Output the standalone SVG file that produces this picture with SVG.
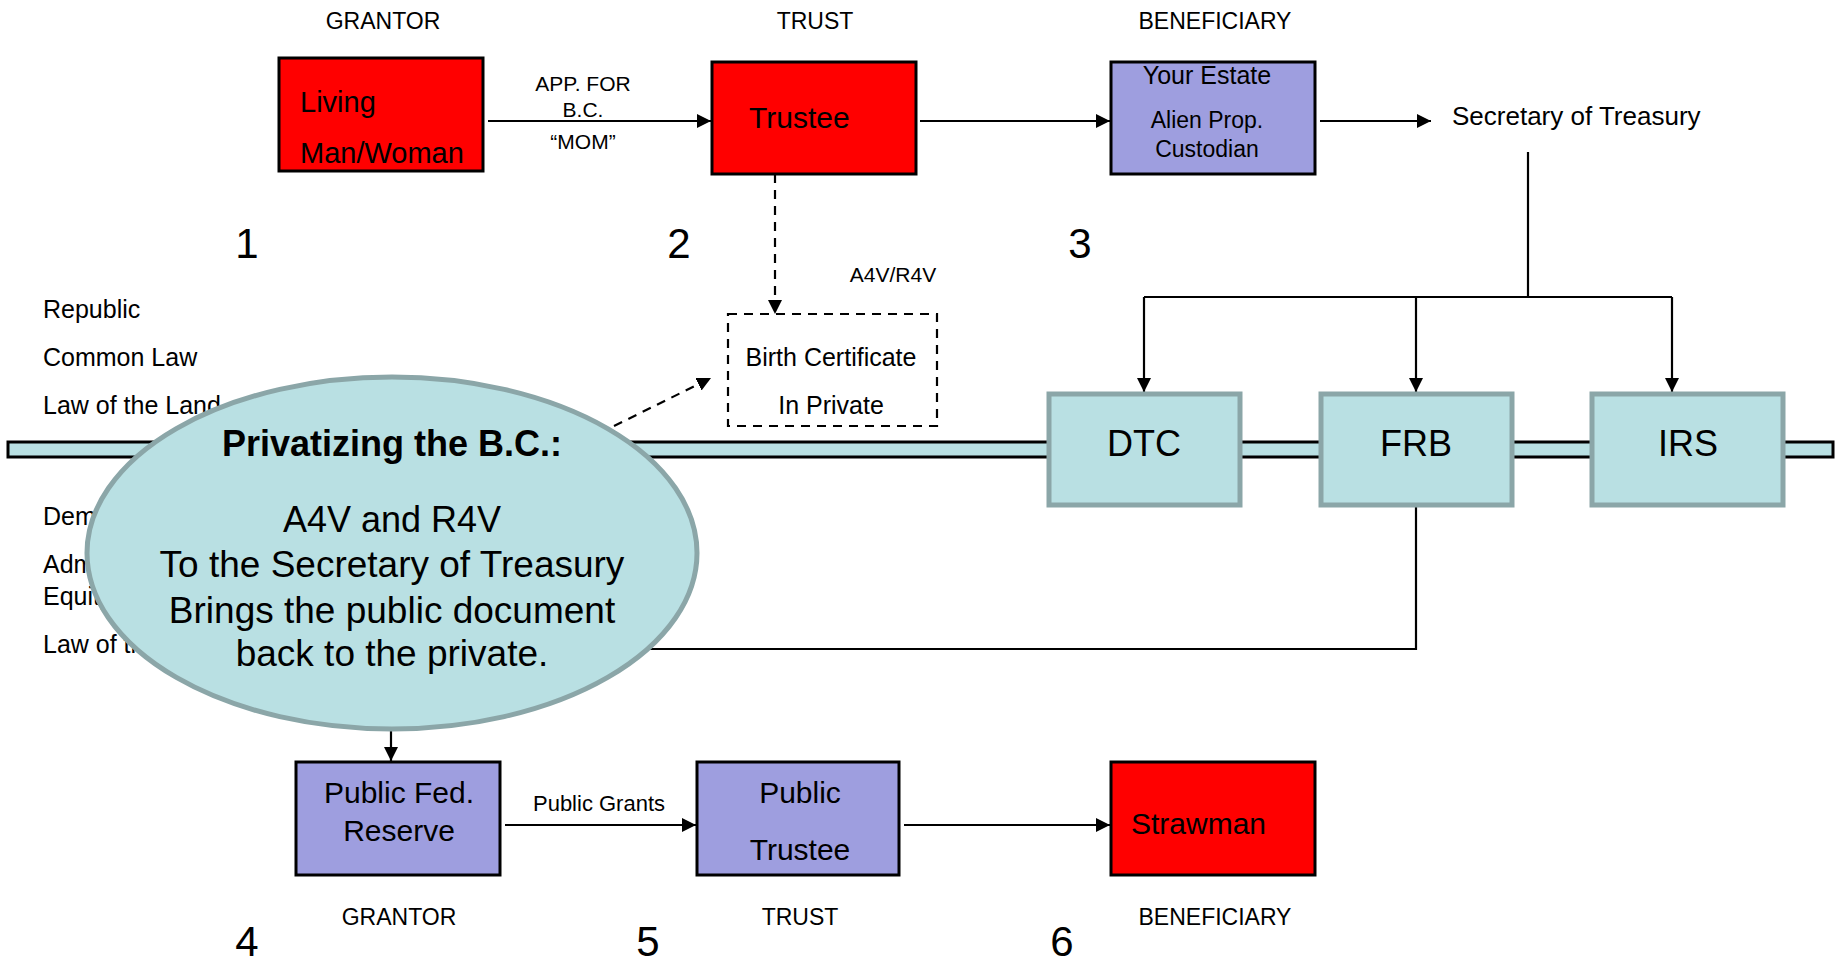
<svg xmlns="http://www.w3.org/2000/svg" width="1836" height="966" viewBox="0 0 1836 966">
<style>
text{font-family:"Liberation Sans",Arial,sans-serif;fill:#000}
.lbl{font-size:23px;text-anchor:middle}
.num{font-size:42px;text-anchor:middle}
.side{font-size:25px}
.red{fill:#FF0000;stroke:#000;stroke-width:3}
.lav{fill:#9E9EDF;stroke:#000;stroke-width:3}
.teal{fill:#B9E0E3;stroke:#8BA6A8;stroke-width:5}
.c{text-anchor:middle}
.ln{fill:none;stroke:#000;stroke-width:2.2}
.dash{fill:none;stroke:#000;stroke-width:2.2;stroke-dasharray:9 7}
</style>
<defs>
<marker id="ah" viewBox="0 0 10 10" refX="10" refY="5" markerWidth="14" markerHeight="14" markerUnits="userSpaceOnUse" orient="auto">
<path d="M0,0 L10,5 L0,10 z" fill="#000"/>
</marker>
</defs>
<rect width="1836" height="966" fill="#fff"/>

<g id="headers">
<text class="lbl" x="383" y="29">GRANTOR</text>
<text class="lbl" x="815" y="29">TRUST</text>
<text class="lbl" x="1215" y="29">BENEFICIARY</text>
<text class="lbl" x="399" y="925">GRANTOR</text>
<text class="lbl" x="800" y="925">TRUST</text>
<text class="lbl" x="1215" y="925">BENEFICIARY</text>
<text class="num" x="247" y="258">1</text>
<text class="num" x="679" y="258">2</text>
<text class="num" x="1080" y="258">3</text>
<text class="num" x="247" y="956">4</text>
<text class="num" x="648" y="956">5</text>
<text class="num" x="1062" y="956">6</text>
</g>

<g id="side-labels">
<text class="side" x="43" y="318">Republic</text>
<text class="side" x="43" y="366">Common Law</text>
<text class="side" x="43" y="414">Law of the Land</text>
<text class="side" x="43" y="525">Democracy</text>
<text class="side" x="43" y="573">Admiralty</text>
<text class="side" x="43" y="605">Equity</text>
<text class="side" x="43" y="653">Law of the Sea</text>
</g>

<g id="band">
<rect x="8" y="442" width="1825" height="15" fill="#B9E0E3" stroke="#000" stroke-width="3"/>
</g>

<g id="connectors">
<line class="ln" x1="488" y1="121" x2="711" y2="121" marker-end="url(#ah)"/>
<line class="ln" x1="920" y1="121" x2="1110" y2="121" marker-end="url(#ah)"/>
<line class="ln" x1="1320" y1="121" x2="1431" y2="121" marker-end="url(#ah)"/>
<polyline class="ln" points="1528,152 1528,297"/>
<polyline class="ln" points="1144,297 1672,297"/>
<line class="ln" x1="1144" y1="297" x2="1144" y2="392" marker-end="url(#ah)"/>
<line class="ln" x1="1416" y1="297" x2="1416" y2="392" marker-end="url(#ah)"/>
<line class="ln" x1="1672" y1="297" x2="1672" y2="392" marker-end="url(#ah)"/>
<line class="dash" x1="775" y1="174" x2="775" y2="314" marker-end="url(#ah)"/>
<line class="dash" x1="614" y1="426" x2="711" y2="378" marker-end="url(#ah)"/>
<polyline class="ln" points="1416,506 1416,649 391,649 391,761" marker-end="url(#ah)"/>
<line class="ln" x1="505" y1="825" x2="696" y2="825" marker-end="url(#ah)"/>
<line class="ln" x1="904" y1="825" x2="1110" y2="825" marker-end="url(#ah)"/>
<text x="583" y="91" font-size="21" text-anchor="middle">APP. FOR</text>
<text x="583" y="117" font-size="21" text-anchor="middle">B.C.</text>
<text x="583" y="149" font-size="21" text-anchor="middle">“MOM”</text>
<text x="893" y="282" font-size="21" text-anchor="middle">A4V/R4V</text>
<text x="599" y="811" font-size="22" text-anchor="middle">Public Grants</text>
</g>

<g id="living">
<rect class="red" x="279" y="58" width="204" height="113"/>
<text x="300" y="112" font-size="29">Living</text>
<text x="300" y="163" font-size="29">Man/Woman</text>
</g>

<g id="trustee">
<rect class="red" x="712" y="62" width="204" height="112"/>
<text x="749" y="128" font-size="30">Trustee</text>
</g>

<g id="estate">
<rect class="lav" x="1111" y="62" width="204" height="112"/>
<text class="c" x="1207" y="84" font-size="25">Your Estate</text>
<text class="c" x="1207" y="128" font-size="23">Alien Prop.</text>
<text class="c" x="1207" y="157" font-size="23">Custodian</text>
</g>

<g id="secretary">
<text x="1452" y="125" font-size="26">Secretary of Treasury</text>
</g>

<g id="birth-certificate">
<rect x="728" y="314" width="209" height="112" fill="#fff" stroke="#000" stroke-width="2.2" stroke-dasharray="9 7"/>
<text class="c" x="831" y="366" font-size="25">Birth Certificate</text>
<text class="c" x="831" y="414" font-size="25">In Private</text>
</g>

<g id="dtc">
<rect class="teal" x="1049" y="394" width="191" height="111"/>
<text class="c" x="1144" y="456" font-size="36">DTC</text>
</g>
<g id="frb">
<rect class="teal" x="1321" y="394" width="191" height="111"/>
<text class="c" x="1416" y="456" font-size="36">FRB</text>
</g>
<g id="irs">
<rect class="teal" x="1592" y="394" width="191" height="111"/>
<text class="c" x="1688" y="456" font-size="36">IRS</text>
</g>

<g id="privatizing">
<ellipse cx="392" cy="553" rx="305" ry="176" fill="#B9E0E3" stroke="#8BA6A8" stroke-width="5"/>
<text class="c" x="392" y="456" font-size="36" font-weight="bold">Privatizing the B.C.:</text>
<text class="c" x="392" y="532" font-size="36">A4V and R4V</text>
<text class="c" x="392" y="577" font-size="37">To the Secretary of Treasury</text>
<text class="c" x="392" y="623" font-size="37">Brings the public document</text>
<text class="c" x="392" y="666" font-size="37">back to the private.</text>
</g>

<g id="public-fed">
<rect class="lav" x="296" y="762" width="204" height="113"/>
<text class="c" x="399" y="803" font-size="30">Public Fed.</text>
<text class="c" x="399" y="841" font-size="30">Reserve</text>
</g>

<g id="public-trustee">
<rect class="lav" x="697" y="762" width="202" height="113"/>
<text class="c" x="800" y="803" font-size="30">Public</text>
<text class="c" x="800" y="860" font-size="30">Trustee</text>
</g>

<g id="strawman">
<rect class="red" x="1111" y="762" width="204" height="113"/>
<text x="1131" y="834" font-size="30">Strawman</text>
</g>
</svg>
